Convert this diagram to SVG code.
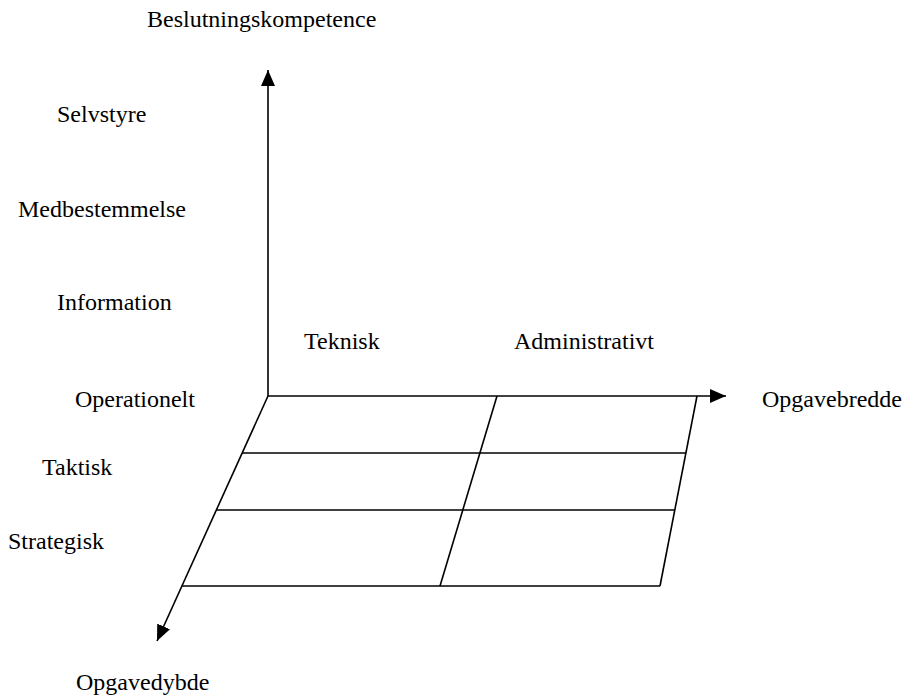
<svg xmlns="http://www.w3.org/2000/svg" width="911" height="698" viewBox="0 0 911 698">
<style>
text{font-family:"Liberation Serif","Times New Roman",serif;font-size:24px;fill:#000}
.ln{stroke:#000;stroke-width:1.6;fill:none}
</style>
<defs>
<marker id="ah" markerWidth="16" markerHeight="14" refX="16" refY="7" orient="auto" markerUnits="userSpaceOnUse"><path d="M0,0 L16,7 L0,14 Z" fill="#000"/></marker>
</defs>
<rect width="911" height="698" fill="#fff"/>
<g id="connectors">
<line class="ln" x1="268" y1="396" x2="268" y2="70" marker-end="url(#ah)"/>
<line class="ln" x1="268" y1="396" x2="726" y2="396" marker-end="url(#ah)"/>
<line class="ln" x1="268" y1="396" x2="157" y2="641" marker-end="url(#ah)"/>
</g>
<g id="grid">
<line class="ln" x1="242" y1="453" x2="686" y2="453"/>
<line class="ln" x1="216" y1="510" x2="675" y2="510"/>
<line class="ln" x1="182" y1="586" x2="660" y2="586"/>
<line class="ln" x1="497" y1="396" x2="440" y2="586"/>
<line class="ln" x1="697" y1="396" x2="660" y2="586"/>
</g>
<g id="labels">
<text x="147" y="27">Beslutningskompetence</text>
<text x="57" y="122">Selvstyre</text>
<text x="18" y="217">Medbestemmelse</text>
<text x="57" y="310">Information</text>
<text x="304" y="349">Teknisk</text>
<text x="514" y="349">Administrativt</text>
<text x="75" y="407">Operationelt</text>
<text x="762" y="407">Opgavebredde</text>
<text x="42" y="475">Taktisk</text>
<text x="8" y="549">Strategisk</text>
<text x="76" y="690">Opgavedybde</text>
</g>
</svg>
